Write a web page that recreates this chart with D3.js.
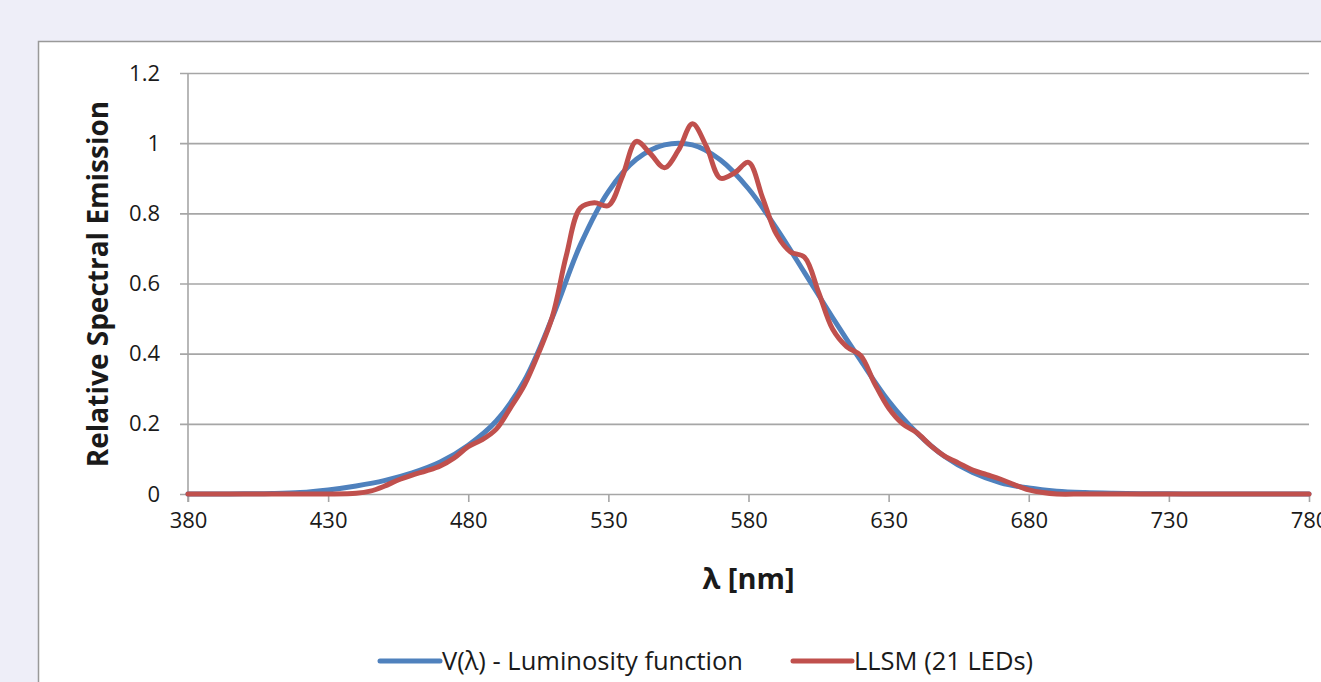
<!DOCTYPE html>
<html>
<head>
<meta charset="utf-8">
<script src="https://cdn.jsdelivr.net/npm/d3@7"></script>
<style>
  html, body { margin: 0; padding: 0; background: #eeeef8; }
  svg { display: block; }
  text { font-family: "Open Sans", "Noto Sans", sans-serif; fill: #1a1a1a; }
</style>
</head>
<body>
<svg id="chart" width="1321" height="682"></svg>
<script>
// ---- data ----
const yTicks = [0, 0.2, 0.4, 0.6, 0.8, 1, 1.2];
const yTickLabels = ["0", "0.2", "0.4", "0.6", "0.8", "1", "1.2"];
const xTicks = [380, 430, 480, 530, 580, 630, 680, 730, 780];
const xTickLabels = ["380", "430", "480", "530", "580", "630", "680", "730", "780"];

const seriesNames = ["V(λ) - Luminosity function", "LLSM (21 LEDs)"];
const seriesColors = ["#4f81bd", "#c0504d"];

const vNm = [380, 390, 400, 410, 420, 430, 440, 450, 460, 470, 480, 490, 500, 510, 520, 530, 540, 550, 560, 570,
             580, 590, 600, 610, 620, 630, 640, 650, 660, 670, 680, 690, 700, 710, 720, 730, 740, 750, 760, 770, 780];
const vVals = [0.00004, 0.00012, 0.0004, 0.0012, 0.004, 0.0116, 0.023, 0.038, 0.06, 0.091, 0.139, 0.208, 0.323, 0.503,
               0.71, 0.862, 0.954, 0.995, 0.995, 0.952, 0.87, 0.757, 0.631, 0.503, 0.381, 0.265, 0.175, 0.107, 0.061,
               0.032, 0.017, 0.0082, 0.0041, 0.0021, 0.00105, 0.00052, 0.00025, 0.00012, 0.00006, 0.00003, 0.000015];

const llsmNm = [380, 400, 420, 430, 440, 445, 450, 455, 460, 465, 470, 475, 480, 485, 490, 495, 500, 505, 510, 515,
                520, 525, 530, 535, 540, 545, 550, 555, 560, 565, 570, 575, 580, 585, 590, 595, 600, 605, 610, 615,
                620, 625, 630, 635, 640, 645, 650, 655, 660, 665, 670, 675, 680, 685, 690, 700, 720, 740, 760, 780];
const llsmVals = [0, 0, 0, 0, 0.002, 0.008, 0.022, 0.04, 0.054, 0.066, 0.08, 0.103, 0.135, 0.155, 0.185, 0.245, 0.31, 0.4, 0.505, 0.68,
                  0.815, 0.83, 0.822, 0.905, 1.005, 0.97, 0.93, 0.98, 1.055, 0.99, 0.9, 0.915, 0.945, 0.845, 0.74, 0.69,
                  0.675, 0.575, 0.47, 0.42, 0.395, 0.315, 0.245, 0.2, 0.175, 0.138, 0.108, 0.088, 0.068, 0.055, 0.042, 0.026,
                  0.012, 0.004, 0, 0, 0, 0, 0, 0];

// ---- layout ----
const svg = d3.select("#chart");
const W = 1321, H = 682;
const plot = { left: 188, right: 1309, top: 73, bottom: 494 };

svg.append("rect")
  .attr("x", 38.5).attr("y", 41.5)
  .attr("width", W).attr("height", H)
  .attr("fill", "#ffffff").attr("stroke", "#999999").attr("stroke-width", 1.5);

const x = d3.scaleLinear().domain([380, 780]).range([plot.left, plot.right]);
const y = d3.scaleLinear().domain([0, 1.2]).range([plot.bottom, plot.top]);

const gridColor = "#a6a6a6";

// horizontal gridlines (with left tick extension)
const yAxis = d3.axisLeft(y).tickValues(yTicks)
  .tickFormat((d, i) => yTickLabels[i])
  .tickSize(-(plot.right - plot.left + 8)).tickPadding(20);
const gy = svg.append("g").attr("transform", `translate(${plot.left - 8},0)`).call(yAxis);
gy.select(".domain").remove();
gy.selectAll(".tick line").attr("stroke", gridColor).attr("stroke-width", 1.6);
gy.selectAll(".tick text").attr("font-size", 22).attr("fill", "#1a1a1a")
  .attr("font-family", "Open Sans, sans-serif");

// y axis line
svg.append("line")
  .attr("x1", plot.left).attr("x2", plot.left)
  .attr("y1", plot.top).attr("y2", plot.bottom + 8)
  .attr("stroke", gridColor).attr("stroke-width", 1.6);

// x axis ticks
const xAxis = d3.axisBottom(x).tickValues(xTicks)
  .tickFormat((d, i) => xTickLabels[i])
  .tickSize(8).tickPadding(10);
const gx = svg.append("g").attr("transform", `translate(0,${plot.bottom})`).call(xAxis);
gx.select(".domain").remove();
gx.selectAll(".tick line").attr("stroke", gridColor).attr("stroke-width", 1.6);
gx.selectAll(".tick text").attr("font-size", 22).attr("fill", "#1a1a1a")
  .attr("font-family", "Open Sans, sans-serif");

// axis titles
svg.append("text")
  .attr("transform", `translate(108,284) rotate(-90)`)
  .attr("text-anchor", "middle")
  .attr("font-size", 28).attr("font-weight", "bold")
  .text("Relative Spectral Emission");

svg.append("text")
  .attr("x", (plot.left + plot.right) / 2).attr("y", 589)
  .attr("text-anchor", "middle")
  .attr("font-size", 29).attr("font-weight", "bold")
  .text("λ [nm]");

// series
const line = d3.line().curve(d3.curveCatmullRom.alpha(0.5))
  .x(d => x(d[0])).y(d => y(d[1]));

const vData = vNm.map((n, i) => [n, vVals[i]]);
const lData = llsmNm.map((n, i) => [n, llsmVals[i]]);

svg.append("path").datum(vData)
  .attr("d", line).attr("fill", "none")
  .attr("stroke", seriesColors[0]).attr("stroke-width", 5)
  .attr("stroke-linejoin", "round").attr("stroke-linecap", "round");

svg.append("path").datum(lData)
  .attr("d", line).attr("fill", "none")
  .attr("stroke", seriesColors[1]).attr("stroke-width", 5)
  .attr("stroke-linejoin", "round").attr("stroke-linecap", "round");

// legend
const legendItems = [
  { x1: 380, x2: 440, tx: 442 },
  { x1: 793, x2: 852, tx: 854 }
];
const lg = svg.append("g");
legendItems.forEach((it, i) => {
  lg.append("line")
    .attr("x1", it.x1).attr("x2", it.x2).attr("y1", 661).attr("y2", 661)
    .attr("stroke", seriesColors[i]).attr("stroke-width", 5).attr("stroke-linecap", "round");
  lg.append("text")
    .attr("x", it.tx).attr("y", 670)
    .attr("font-size", 25.5)
    .text(seriesNames[i]);
});
</script>
</body>
</html>
